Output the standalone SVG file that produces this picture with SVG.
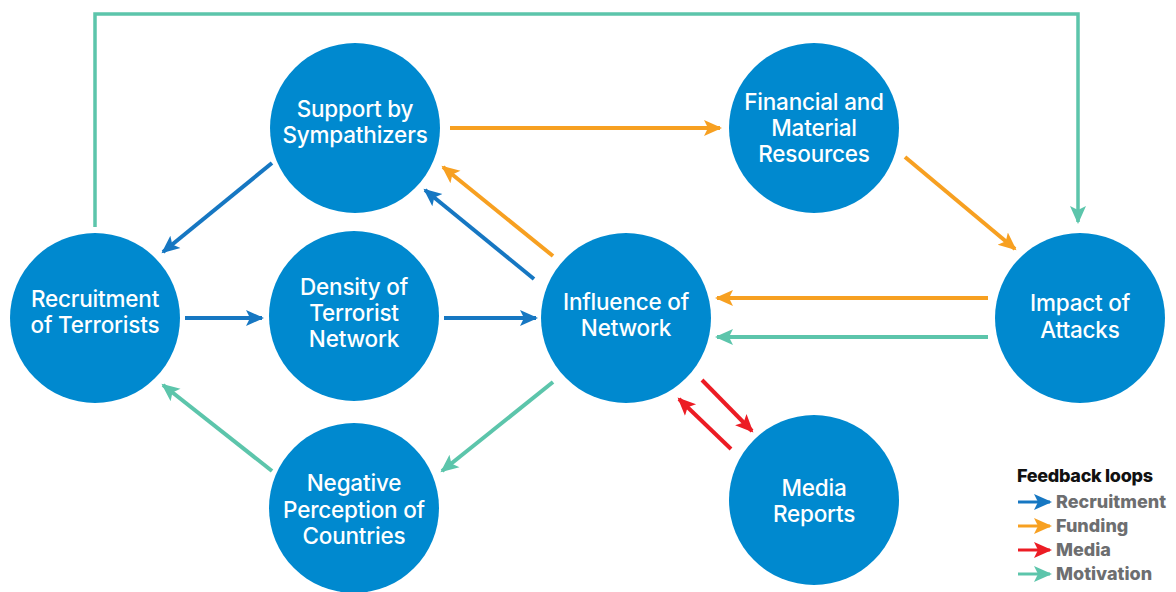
<svg xmlns="http://www.w3.org/2000/svg" width="1176" height="592" viewBox="0 0 1176 592">
<style>
.node{fill:#0089cf}
.lbl{font-family:Inter,"Liberation Sans",sans-serif;font-size:22.5px;font-weight:500;fill:#fff;text-anchor:middle;letter-spacing:-0.2px}
.c{fill:none;stroke-width:4}
.b{stroke:#1677c2}
.o{stroke:#f7a021}
.r{stroke:#ec1c24}
.t{stroke:#5cc5ab}
.leg{font-family:Inter,"Liberation Sans",sans-serif;font-size:18px;font-weight:800;fill:#6d6e70}
.legt{font-family:Inter,"Liberation Sans",sans-serif;font-size:18px;font-weight:800;fill:#111;letter-spacing:-0.3px}
</style>
<defs>
<marker id="mb" markerUnits="userSpaceOnUse" markerWidth="20" markerHeight="20" refX="16" refY="8" orient="auto" viewBox="0 0 20 16"><path d="M0,0 L18,8 L0,16 L4,8 Z" fill="#1677c2"/></marker>
<marker id="mo" markerUnits="userSpaceOnUse" markerWidth="20" markerHeight="20" refX="16" refY="8" orient="auto" viewBox="0 0 20 16"><path d="M0,0 L18,8 L0,16 L4,8 Z" fill="#f7a021"/></marker>
<marker id="mr" markerUnits="userSpaceOnUse" markerWidth="20" markerHeight="20" refX="16" refY="8" orient="auto" viewBox="0 0 20 16"><path d="M0,0 L18,8 L0,16 L4,8 Z" fill="#ec1c24"/></marker>
<marker id="mt" markerUnits="userSpaceOnUse" markerWidth="20" markerHeight="20" refX="16" refY="8" orient="auto" viewBox="0 0 20 16"><path d="M0,0 L18,8 L0,16 L4,8 Z" fill="#5cc5ab"/></marker>
</defs>
<rect width="1176" height="592" fill="#fff"/>
<g id="connectors">
<path class="c t" style="stroke-width:3.5" d="M95,227 V14 H1078 V222" marker-end="url(#mt)"/>
<line class="c b" x1="272" y1="163" x2="163" y2="252" marker-end="url(#mb)"/>
<line class="c b" x1="185" y1="318" x2="262" y2="318" marker-end="url(#mb)"/>
<line class="c b" x1="444" y1="318" x2="536" y2="318" marker-end="url(#mb)"/>
<line class="c b" x1="534" y1="279" x2="425" y2="190" marker-end="url(#mb)"/>
<line class="c o" x1="553" y1="256" x2="443" y2="167" marker-end="url(#mo)"/>
<line class="c o" x1="450" y1="128" x2="720" y2="128" marker-end="url(#mo)"/>
<line class="c o" x1="905" y1="157" x2="1015" y2="249" marker-end="url(#mo)"/>
<line class="c o" x1="988" y1="298" x2="717" y2="298" marker-end="url(#mo)"/>
<line class="c t" x1="988" y1="337" x2="717" y2="337" marker-end="url(#mt)"/>
<line class="c r" x1="702" y1="380" x2="752" y2="431" marker-end="url(#mr)"/>
<line class="c r" x1="731" y1="449" x2="679" y2="399" marker-end="url(#mr)"/>
<line class="c t" x1="553" y1="382" x2="442" y2="471" marker-end="url(#mt)"/>
<line class="c t" x1="272" y1="471" x2="163" y2="385" marker-end="url(#mt)"/>
</g>
<g id="support"><circle class="node" cx="355" cy="128" r="85"/><text class="lbl" x="355" y="117">Support by</text><text class="lbl" x="355" y="143">Sympathizers</text></g>
<g id="financial"><circle class="node" cx="814" cy="128" r="85"/><text class="lbl" x="814" y="110">Financial and</text><text class="lbl" x="814" y="136">Material</text><text class="lbl" x="814" y="162">Resources</text></g>
<g id="recruitment"><circle class="node" cx="95" cy="318" r="85"/><text class="lbl" x="95" y="307">Recruitment</text><text class="lbl" x="95" y="333">of Terrorists</text></g>
<g id="density"><circle class="node" cx="354" cy="316" r="85"/><text class="lbl" x="354" y="295">Density of</text><text class="lbl" x="354" y="321">Terrorist</text><text class="lbl" x="354" y="347">Network</text></g>
<g id="influence"><circle class="node" cx="626" cy="318" r="85"/><text class="lbl" x="626" y="310">Influence of</text><text class="lbl" x="626" y="336">Network</text></g>
<g id="impact"><circle class="node" cx="1080" cy="318" r="85"/><text class="lbl" x="1080" y="311">Impact of</text><text class="lbl" x="1080" y="338">Attacks</text></g>
<g id="negative"><circle class="node" cx="354" cy="508" r="85"/><text class="lbl" x="354" y="491">Negative</text><text class="lbl" x="354" y="518">Perception of</text><text class="lbl" x="354" y="544">Countries</text></g>
<g id="media"><circle class="node" cx="814" cy="500" r="85"/><text class="lbl" x="814" y="496">Media</text><text class="lbl" x="814" y="522">Reports</text></g>
<g id="legend">
<text class="legt" x="1017" y="482">Feedback loops</text>
<line class="c b" style="stroke-width:3" x1="1018" y1="502" x2="1050" y2="502" marker-end="url(#mb)"/>
<text class="leg" x="1056" y="508">Recruitment</text>
<line class="c o" style="stroke-width:3" x1="1018" y1="526" x2="1050" y2="526" marker-end="url(#mo)"/>
<text class="leg" x="1056" y="532">Funding</text>
<line class="c r" style="stroke-width:3" x1="1018" y1="550" x2="1050" y2="550" marker-end="url(#mr)"/>
<text class="leg" x="1056" y="556">Media</text>
<line class="c t" style="stroke-width:3" x1="1018" y1="574" x2="1050" y2="574" marker-end="url(#mt)"/>
<text class="leg" x="1056" y="580">Motivation</text>
</g>
</svg>
